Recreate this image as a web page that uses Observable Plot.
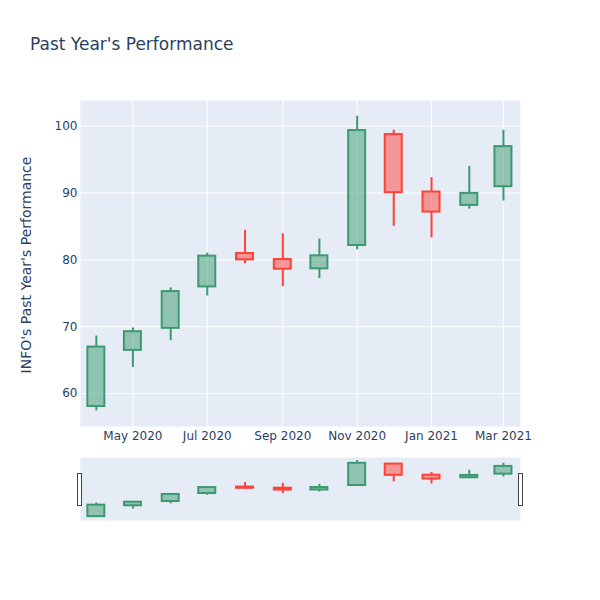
<!DOCTYPE html>
<html><head><meta charset="utf-8">
<script src="https://cdn.jsdelivr.net/npm/d3@7"></script>
<script src="https://cdn.jsdelivr.net/npm/@observablehq/plot@0.6"></script>
<style>
body{margin:0;background:#fff;font-family:"DejaVu Sans",sans-serif;}
#wrap{position:relative;width:600px;height:600px;overflow:hidden;}
#title{position:absolute;left:30px;top:34px;font-size:17px;line-height:20px;color:#2a3f5f;white-space:nowrap;}
#ylab{position:absolute;left:26px;top:265px;font-size:14px;line-height:14px;color:#2a3f5f;white-space:nowrap;transform:translate(-50%,-50%) rotate(-90deg);}
#main,#slider{position:absolute;left:0;}
#main{top:0;} #slider{top:450px;}
.handle{position:absolute;width:3px;height:31px;background:#fff;border:1px solid #444;top:473px;}
</style></head><body>
<div id="wrap">
<div id="title">Past Year's Performance</div>
<div id="ylab">INFO's Past Year's Performance</div>
<div id="main"></div>
<div id="slider"></div>
<div class="handle" style="left:77px"></div>
<div class="handle" style="left:518px"></div>
</div>
<script>
const dates = ["2020-04-01","2020-05-01","2020-06-01","2020-07-01","2020-08-01","2020-09-01","2020-10-01","2020-11-01","2020-12-01","2021-01-01","2021-02-01","2021-03-01"];
const open  = [58.05, 66.45, 69.75, 75.95, 80.95, 80.05, 78.65, 82.15, 98.75, 90.15, 88.15, 90.95];
const high  = [68.6, 69.8, 75.8, 81.0, 84.4, 83.9, 83.1, 101.5, 99.4, 92.3, 94.0, 99.4];
const low   = [57.4, 63.9, 67.9, 74.6, 79.4, 76.0, 77.2, 81.5, 85.0, 83.3, 87.6, 88.8];
const close = [66.95, 69.25, 75.25, 80.55, 80.0, 78.6, 80.6, 99.35, 90.05, 87.15, 89.95, 96.95];
const xTickDates = ["2020-05-01","2020-07-01","2020-09-01","2020-11-01","2021-01-01","2021-03-01"];
const yTicks = [60, 70, 80, 90, 100];
const xDomain = ["2020-03-19","2021-03-15"];
const yDomain = [55.06, 103.85];

const INC = "#3D9970", DEC = "#FF4136";
const data = dates.map((d, i) => ({date: new Date(d), open: open[i], high: high[i], low: low[i], close: close[i]}));
const col = d => d.close >= d.open ? INC : DEC;

function candleMarks() {
  return [
    Plot.ruleX(data, {x: "date", y1: d => Math.max(d.open, d.close), y2: "high", stroke: col, strokeWidth: 2}),
    Plot.ruleX(data, {x: "date", y1: "low", y2: d => Math.min(d.open, d.close), stroke: col, strokeWidth: 2}),
    Plot.rect(data, {x1: "date", x2: "date", y1: "open", y2: "close", fill: col, fillOpacity: 0.5, stroke: col, strokeWidth: 2, insetLeft: -8.5, insetRight: -8.5})
  ];
}

const main = Plot.plot({
  width: 600, height: 450,
  marginLeft: 80, marginRight: 80, marginTop: 100, marginBottom: 24,
  style: {fontFamily: "DejaVu Sans", fontSize: "12px", color: "#2a3f5f", background: "transparent"},
  x: {type: "utc", domain: xDomain.map(d => new Date(d)), ticks: xTickDates.map(d => new Date(d)), tickFormat: d3.utcFormat("%b %Y"), tickSize: 0, tickPadding: 5, label: null},
  y: {domain: yDomain, ticks: yTicks, tickSize: 0, tickPadding: 3, label: null},
  color: {type: "identity"},
  marks: [
    Plot.frame({fill: "#E5ECF6", stroke: null}),
    Plot.ruleY(yTicks, {stroke: "#fff", strokeWidth: 1}),
    Plot.ruleX(xTickDates.map(d => new Date(d)), {stroke: "#fff", strokeWidth: 1}),
    ...candleMarks()
  ]
});
document.getElementById("main").appendChild(main);

const slider = Plot.plot({
  width: 600, height: 80,
  marginLeft: 80, marginRight: 80, marginTop: 7, marginBottom: 10,
  style: {fontFamily: "DejaVu Sans", fontSize: "12px", background: "transparent"},
  x: {type: "utc", domain: xDomain.map(d => new Date(d)), axis: null},
  y: {domain: yDomain, axis: null},
  color: {type: "identity"},
  marks: [
    Plot.frame({fill: "#E5ECF6", stroke: null}),
    ...candleMarks()
  ]
});
document.getElementById("slider").appendChild(slider);
</script>
</body></html>
